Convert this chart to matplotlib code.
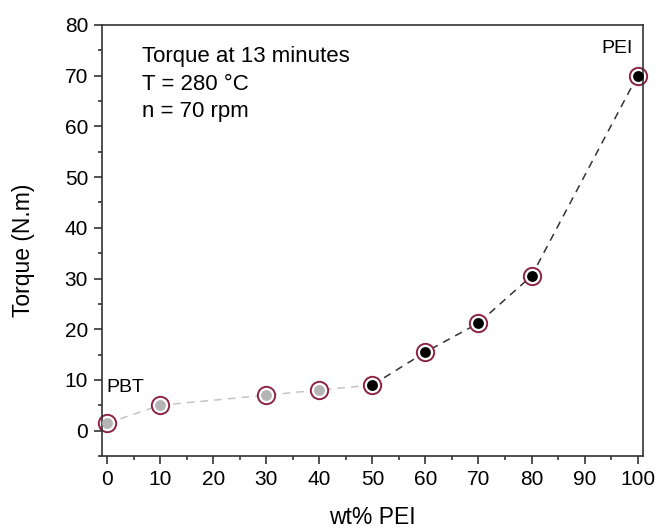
import numpy as np
import matplotlib
matplotlib.use('Agg')
import matplotlib.pyplot as plt
from matplotlib.ticker import MultipleLocator

plt.rcParams['font.family'] = ['Liberation Sans', 'DejaVu Sans']

# Data
wt_pei = [0, 10, 30, 40, 50, 60, 70, 80, 100]
torque = [1.5, 5.0, 7.0, 8.0, 9.0, 15.5, 21.2, 30.5, 70.0]
n_gray = 5  # first points (PBT rich) drawn grey, 50 wt% onwards black

RING = '#8c2443'

fig = plt.figure(figsize=(6.56, 5.28), dpi=100)
ax = fig.add_axes([0.1555, 0.1364, 0.8245, 0.8163])

x = np.array(wt_pei)
y = np.array(torque)

# Dashed connecting lines
ax.plot(x[:n_gray], y[:n_gray], ls=(0, (5, 4)), color='#c4c4c4', lw=1.1, zorder=1)
ax.plot(x[n_gray - 1:], y[n_gray - 1:], ls=(0, (5, 4)), color='#333333', lw=1.1, zorder=1)

# Markers: ring + inner fill
ax.plot(x, y, 'o', ms=12.5, mfc='white', mec=RING, mew=1.4, ls='none', zorder=2, clip_on=False)
ax.plot(x[:n_gray], y[:n_gray], 'o', ms=7.8, mfc='#b5b5b5', mec='none', ls='none', zorder=3, clip_on=False)
ax.plot(x[n_gray - 1:], y[n_gray - 1:], 'o', ms=7.8, mfc='black', mec='none', ls='none', zorder=3, clip_on=False)

# Axes
ax.set_xlim(-1, 101)
ax.set_ylim(-5, 80)
ax.xaxis.set_major_locator(MultipleLocator(10))
ax.xaxis.set_minor_locator(MultipleLocator(5))
ax.yaxis.set_major_locator(MultipleLocator(10))
ax.yaxis.set_minor_locator(MultipleLocator(5))
ax.tick_params(which='both', direction='out', top=False, right=False, labelsize=15,
               width=1.2, color='#333333', pad=4.5)
ax.tick_params(which='major', length=5.5)
ax.tick_params(which='minor', length=3)
for s in ax.spines.values():
    s.set_linewidth(1.2)
    s.set_color('#333333')

ax.set_xlabel('wt% PEI', fontsize=16.5)
ax.set_ylabel('Torque (N.m)', fontsize=16.5)
ax.xaxis.set_label_coords(0.5, -0.115)
ax.yaxis.set_label_coords(-0.124, 0.478)

# Annotations
ax.text(6.6, 75.8, 'Torque at 13 minutes\nT = 280 °C\nn = 70 rpm', fontsize=16,
        va='top', ha='left', linespacing=1.4)
ax.text(-0.2, 8.6, 'PBT', fontsize=14, ha='left', va='center')
ax.text(96.2, 75.3, 'PEI', fontsize=14, ha='center', va='center')

fig.savefig('out.png', dpi=100)
